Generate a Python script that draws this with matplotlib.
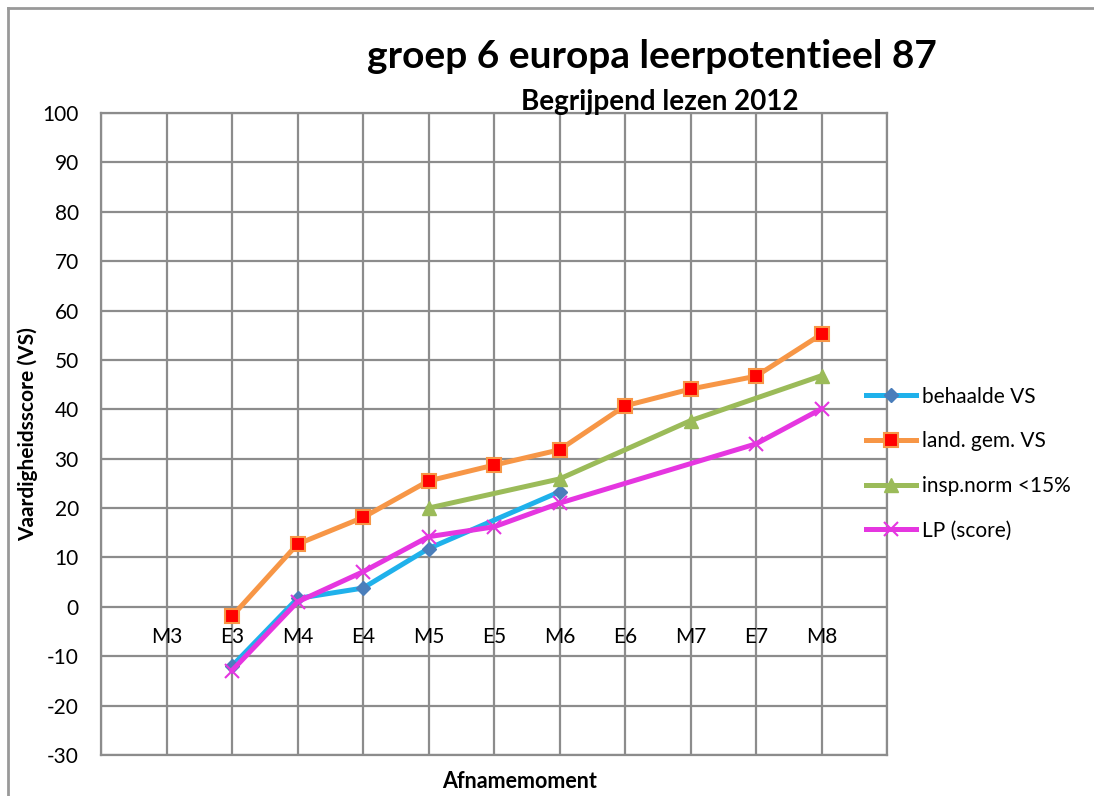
import numpy as np
import matplotlib
matplotlib.use("Agg")
import matplotlib.pyplot as plt
from matplotlib.lines import Line2D

plt.rcParams['font.family'] = ['Lato', 'DejaVu Sans']
plt.rcParams['axes.unicode_minus'] = False

momenten = ['M3', 'E3', 'M4', 'E4', 'M5', 'E5', 'M6', 'E6', 'M7', 'E7', 'M8']
nan = np.nan
behaalde_vs = [nan, -12, 1.7, 3.8, 11.8, nan, 23.3, nan, nan, nan, nan]
land_gem_vs = [nan, -1.9, 12.7, 18.1, 25.5, 28.7, 31.8, 40.7, 44.1, 46.7, 55.2]
insp_norm = [nan, nan, nan, nan, 20, nan, 25.9, nan, 37.7, nan, 46.8]
lp_score = [nan, -12.9, 1.0, 7.1, 14.2, 16.2, 21.0, nan, nan, 33.0, 40.1]

W, H = 1094, 796
fig = plt.figure(figsize=(W / 100, H / 100), dpi=100)
ax = fig.add_axes([101 / W, 1 - 755 / H, (887 - 101) / W, (755 - 113) / H])

x = np.arange(len(momenten))


def plot_reeks(vals, **kw):
    vals = np.array(vals, dtype=float)
    ok = ~np.isnan(vals)
    return ax.plot(x[ok], vals[ok], **kw)[0]


l1 = plot_reeks(behaalde_vs, color='#1fb1eb', lw=3.6, marker='D', ms=7,
                mfc='#4a7ebb', mec='#4a7ebb', zorder=3)
l2 = plot_reeks(land_gem_vs, color='#f79646', lw=3.6, marker='s', ms=10,
                mfc='#ff0000', mec='#f79646', mew=1.5, zorder=3)
l3 = plot_reeks(insp_norm, color='#9bbb59', lw=3.6, marker='^', ms=10,
                mfc='#9bbb59', mec='#9bbb59', zorder=3)
l4 = plot_reeks(lp_score, color='#e536e0', lw=3.6, marker='x', ms=10,
                mew=1.5, zorder=4)

ax.set_xlim(-1, 11)
ax.set_ylim(-30, 100)
ax.set_xticks(np.arange(-1, 12))
ax.set_yticks(np.arange(-30, 101, 10))
ax.set_xticklabels([])
ax.tick_params(length=0)
ax.tick_params(axis='y', labelsize=15, pad=16)
ax.grid(True, color='#8c8c8c', lw=1.6)
for s in ax.spines.values():
    s.set_color('#8c8c8c')
    s.set_linewidth(1.6)

# categorie labels net onder de nul-lijn
for i, m in enumerate(momenten):
    ax.text(i, -6.2, m, ha='center', va='center', fontsize=15)

ax.set_ylabel('Vaardigheidsscore (VS)', fontsize=15, fontweight='bold')
ax.yaxis.set_label_coords(-(101 - 38) / 786, 0.5)

fig.text(652 / W, 1 - 57 / H, 'groep 6 europa leerpotentieel 87',
         ha='center', va='center', fontsize=28, fontweight='bold')
fig.text(660 / W, 1 - 102 / H, 'Begrijpend lezen 2012',
         ha='center', va='center', fontsize=20, fontweight='bold')
fig.text(520 / W, 1 - 782 / H, 'Afnamemoment',
         ha='center', va='center', fontsize=15.5, fontweight='bold')

leg = fig.legend([l1, l2, l3, l4],
                 ['behaalde VS', 'land. gem. VS', 'insp.norm <15%', 'LP (score)'],
                 loc='upper left', bbox_to_anchor=(847 / W, 1 - 368 / H),
                 frameon=False, fontsize=15, handlelength=2.4, handletextpad=0.3,
                 labelspacing=1.18, numpoints=1)

# rand rond de grafiek
fig.add_artist(Line2D([8 / W, 1], [1 - 8 / H, 1 - 8 / H], color='#999999', lw=2))
fig.add_artist(Line2D([8 / W, 8 / W], [0, 1 - 8 / H], color='#999999', lw=2))

fig.savefig('out.png', dpi=100)
